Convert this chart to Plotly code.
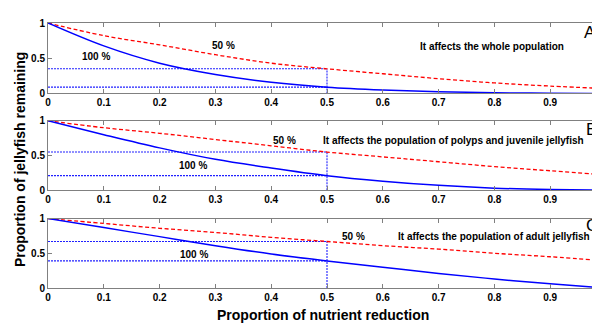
import plotly.graph_objects as go
from plotly.subplots import make_subplots

x_vals = [0, 0.1, 0.2, 0.3, 0.4, 0.5, 0.6, 0.7, 0.8, 0.9, 1.0]

a_red = [1, 0.82, 0.69, 0.55, 0.43, 0.35, 0.28, 0.21, 0.15, 0.105, 0.07]
a_blue = [1, 0.675, 0.43, 0.27, 0.16, 0.09, 0.05, 0.025, 0.01, 0.005, 0.0]
b_red = [1, 0.90, 0.82, 0.73, 0.64, 0.55, 0.48, 0.41, 0.34, 0.28, 0.22]
b_blue = [1, 0.80, 0.61, 0.445, 0.32, 0.21, 0.13, 0.07, 0.03, 0.01, 0.0]
c_red = [1, 0.93, 0.86, 0.80, 0.73, 0.67, 0.61, 0.56, 0.50, 0.45, 0.39]
c_blue = [1, 0.87, 0.74, 0.61, 0.49, 0.39, 0.30, 0.21, 0.13, 0.06, 0.0]

panel_letters = ["A", "B", "C"]
panel_texts = ["It affects the whole population",
               "It affects the population of polyps and juvenile jellyfish",
               "It affects the population of adult jellyfish"]
x_tick_vals = [0, 0.1, 0.2, 0.3, 0.4, 0.5, 0.6, 0.7, 0.8, 0.9, 1.0]
x_tick_text = ["0", "0.1", "0.2", "0.3", "0.4", "0.5", "0.6", "0.7", "0.8", "0.9", "1"]
y_tick_vals = [0, 0.5, 1]
y_tick_text = ["0", "0.5", "1"]

x_title = "Proportion of nutrient reduction"
y_title = "Proportion of jellyfish remaining"

# label positions (data coords) per panel
lbl50 = [(0.314, 0.68), (0.423, 0.72), (0.548, 0.74)]
lbl100 = [(0.086, 0.52), (0.259, 0.36), (0.261, 0.48)]
lbltxt = [(0.795, 0.67), (0.727, 0.72), (0.800, 0.74)]
lblletter = [(0.957, 0.87), (0.960, 0.88), (0.960, 0.90)]

fig = make_subplots(rows=3, cols=1, vertical_spacing=0.0)

domains = [[0.734, 1.0], [0.369, 0.631], [0.0, 0.262]]
series = [(a_red, a_blue), (b_red, b_blue), (c_red, c_blue)]
FONT = "Liberation Sans, Arial, sans-serif"
GRAY = "#808080"
BLUE = "#0000FF"
RED = "#FF0000"
half = x_vals.index(0.5)

for i, (red, blue) in enumerate(series):
    r = i + 1
    dot = dict(color="#2020FF", width=1.1, dash="2px,1px")
    fig.add_trace(go.Scatter(x=[0, 0.5], y=[red[half], red[half]], mode="lines",
                             line=dot, showlegend=False), row=r, col=1)
    fig.add_trace(go.Scatter(x=[0, 0.5], y=[blue[half], blue[half]], mode="lines",
                             line=dot, showlegend=False), row=r, col=1)
    fig.add_trace(go.Scatter(x=[0.5, 0.5], y=[0, red[half]], mode="lines",
                             line=dot, showlegend=False), row=r, col=1)
    fig.add_trace(go.Scatter(x=x_vals, y=red, mode="lines", line_shape="spline",
                             line=dict(color=RED, width=1.3, dash="4px,2.5px"), showlegend=False), row=r, col=1)
    fig.add_trace(go.Scatter(x=x_vals, y=blue, mode="lines", line_shape="spline",
                             line=dict(color=BLUE, width=1.5), showlegend=False), row=r, col=1)

    xa = "x" if r == 1 else f"x{r}"
    ya = "y" if r == 1 else f"y{r}"
    for (px, py), t in [(lbl50[i], "50 %"), (lbl100[i], "100 %"), (lbltxt[i], panel_texts[i])]:
        fig.add_annotation(x=px, y=py, xref=xa, yref=ya, text=t, showarrow=False,
                           xanchor="center", yanchor="middle",
                           font=dict(family=FONT, size=10, color="black", weight="bold"))
    fig.add_annotation(x=lblletter[i][0], y=lblletter[i][1], xref=xa, yref=ya,
                       text=panel_letters[i], showarrow=False, xanchor="left", yanchor="middle",
                       font=dict(family=FONT, size=17, color="black"))

    fig.update_xaxes(row=r, col=1, range=[0, 1], tickvals=x_tick_vals, ticktext=x_tick_text,
                     ticks="inside", ticklen=4, tickcolor=GRAY, showline=True, linecolor=GRAY,
                     linewidth=1, mirror="allticks", showgrid=False, zeroline=False,
                     tickfont=dict(family=FONT, size=10, color="black", weight="bold"))
    fig.update_yaxes(row=r, col=1, range=[0, 1], domain=domains[i], tickvals=y_tick_vals,
                     ticktext=y_tick_text, ticks="inside", ticklen=4, tickcolor=GRAY,
                     showline=True, linecolor=GRAY, linewidth=1, mirror="allticks",
                     showgrid=False, zeroline=False,
                     tickfont=dict(family=FONT, size=10, color="black", weight="bold"))

fig.add_annotation(x=0.493, y=-0.103, xref="paper", yref="paper", text=x_title, showarrow=False,
                   xanchor="center", yanchor="middle",
                   font=dict(family=FONT, size=14, color="black", weight="bold"))
fig.add_annotation(x=-0.05, y=0.483, xref="paper", yref="paper", text=y_title, showarrow=False,
                   textangle=-90, xanchor="center", yanchor="middle",
                   font=dict(family=FONT, size=14, color="black", weight="bold"))

fig.update_layout(width=610, height=323, margin=dict(l=40, r=10, t=9, b=43),
                  plot_bgcolor="white", paper_bgcolor="white", showlegend=False)

fig.write_html("out.html")
